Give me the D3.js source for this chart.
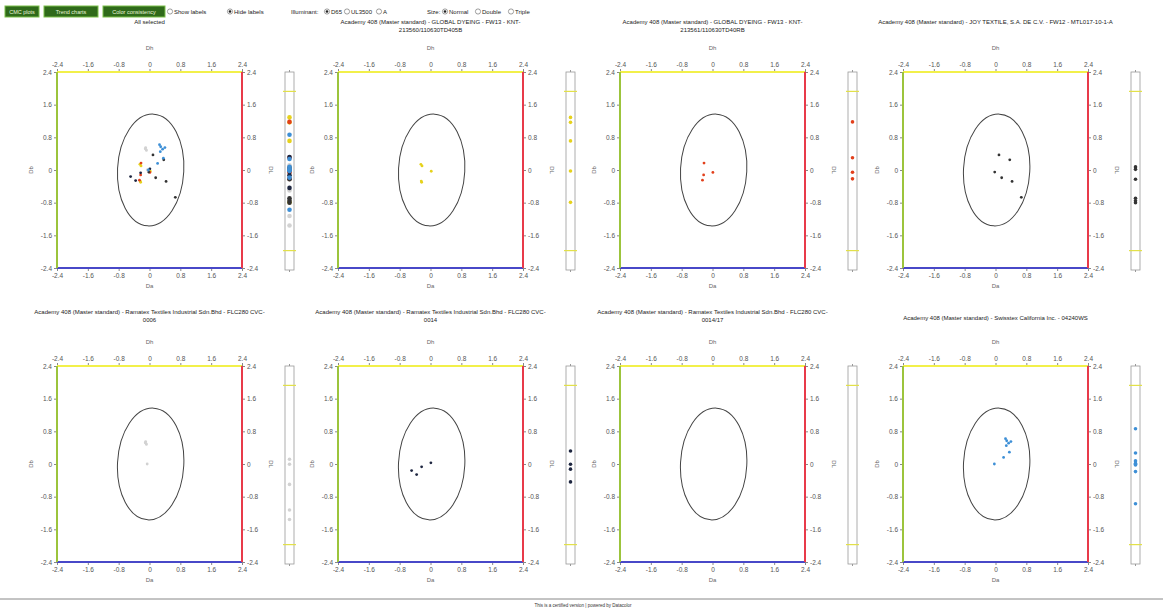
<!DOCTYPE html>
<html>
<head>
<meta charset="utf-8">
<script src="https://cdn.jsdelivr.net/npm/d3@7"></script>
<style>
  body { margin: 0; background: #fff; font-family: "Liberation Sans", Arial, sans-serif; }
  svg text { font-family: "Liberation Sans", Arial, sans-serif; }
  .tick text { fill: #555; font-size: 6.5px; }
  .tick line { stroke: #888; }
</style>
</head>
<body>
<script>
// ---- data ----
var tickVals = [-2.4, -1.6, -0.8, 0, 0.8, 1.6, 2.4];
var dlLimit = 1.93;

var titles = [
  ["All selected"],
  ["Academy 408 (Master standard) - GLOBAL DYEING - FW13 - KNT-", "213560/110630TD405B"],
  ["Academy 408 (Master standard) - GLOBAL DYEING - FW13 - KNT-", "213561/110630TD40RB"],
  ["Academy 408 (Master standard) - JOY TEXTILE, S.A. DE C.V. - FW12 - MTL017-10-1-A"],
  ["Academy 408 (Master standard) - Ramatex Textiles Industrial Sdn.Bhd - FLC280 CVC-", "0006"],
  ["Academy 408 (Master standard) - Ramatex Textiles Industrial Sdn.Bhd - FLC280 CVC-", "0014"],
  ["Academy 408 (Master standard) - Ramatex Textiles Industrial Sdn.Bhd - FLC280 CVC-", "0014/17"],
  ["Academy 408 (Master standard) - Swisstex California Inc. - 04240WS"]
];

// GLOBAL DYEING 405B
var p2Da = [-0.25, -0.22, 0.02, -0.23, -0.24];
var p2Db = [0.14, 0.10, -0.03, -0.30, -0.27];
var p2Dl = [1.30, 1.18, 0.73, 0.00, -0.76];
// GLOBAL DYEING 40RB
var p3Da = [-0.22, -0.23, -0.26, 0.01];
var p3Db = [0.17, -0.12, -0.25, -0.06];
var p3Dl = [1.19, 0.32, -0.03, -0.19];
// JOY TEXTILE
var p4Da = [0.09, 0.37, -0.02, 0.16, 0.43, 0.67];
var p4Db = [0.37, 0.25, -0.05, -0.19, -0.28, -0.67];
var p4Dl = [0.10, 0.04, -0.20, -0.66, -0.72, -0.77];
// Ramatex 0006
var p5Da = [-0.11, -0.06, -0.09, -0.10, -0.08];
var p5Db = [0.52, 0.00, 0.50, 0.55, 0.48];
var p5Dl = [0.14, 0.02, -0.47, -1.09, -1.32];
// Ramatex 0014
var p6Da = [-0.49, -0.36, -0.23, 0.01];
var p6Db = [-0.16, -0.26, -0.07, 0.03];
var p6Dl = [0.34, 0.02, -0.10, -0.41];
// Ramatex 0014/17
var p7Da = [];
var p7Db = [];
var p7Dl = [];
// Swisstex
var p8Da = [0.26, 0.29, 0.34, 0.40, 0.28, 0.36, 0.21, -0.03];
var p8Db = [0.62, 0.57, 0.51, 0.55, 0.45, 0.29, 0.16, 0.00];
var p8Dl = [0.88, 0.29, 0.10, 0.04, 0.00, -0.16, -0.94, 0.02];

var supplierColors = ["#e6d21c", "#e2401c", "#333333", "#d2d2d2", "#1e2640", "#888888", "#3d8fd6"];

// build per-panel tables
function rows(da, db, dl, c) {
  return da.map(function(d, i) { return {da: d, db: db[i], dl: dl[i], color: c}; });
}
var supplierData = [
  rows(p2Da, p2Db, p2Dl, supplierColors[0]),
  rows(p3Da, p3Db, p3Dl, supplierColors[1]),
  rows(p4Da, p4Db, p4Dl, supplierColors[2]),
  rows(p5Da, p5Db, p5Dl, supplierColors[3]),
  rows(p6Da, p6Db, p6Dl, supplierColors[4]),
  rows(p7Da, p7Db, p7Dl, supplierColors[5]),
  rows(p8Da, p8Db, p8Dl, supplierColors[6])
];
var allData = [].concat.apply([], supplierData);
var panelData = [allData].concat(supplierData);

// ---- layout ----
var W = 185, H = 196;
var colX = [57, 338, 620, 903];
var rowY = [72, 366];
var titleY = [[24, 24, 24, 24], [314, 314, 314, 320]];

var svg = d3.select("body").append("svg")
  .attr("width", 1163).attr("height", 611);

// ---- top controls ----
var ctl = svg.append("g").attr("font-size", "6px").attr("fill", "#222");
var buttons = [{t: "CMC plots", x: 5, w: 34}, {t: "Trend charts", x: 44, w: 54}, {t: "Color consistency", x: 103, w: 62}];
buttons.forEach(function(b) {
  ctl.append("rect").attr("x", b.x).attr("y", 6).attr("width", b.w).attr("height", 11)
    .attr("fill", "#2f6a1a").attr("stroke", "#7cc04a").attr("stroke-width", 1);
  ctl.append("text").attr("x", b.x + b.w / 2).attr("y", 14).attr("text-anchor", "middle")
    .attr("fill", "#e8f5d8").attr("font-size", "5.5px").text(b.t);
});
function radio(x, label, on) {
  ctl.append("circle").attr("cx", x + 3).attr("cy", 11.5).attr("r", 2.6)
    .attr("fill", "#fff").attr("stroke", "#777").attr("stroke-width", 0.7);
  if (on) ctl.append("circle").attr("cx", x + 3).attr("cy", 11.5).attr("r", 1.3).attr("fill", "#222");
  ctl.append("text").attr("x", x + 7).attr("y", 13.8).text(label);
}
radio(167, "Show labels", false);
radio(227, "Hide labels", true);
ctl.append("text").attr("x", 291).attr("y", 13.8).text("Illuminant:");
radio(324, "D65", true);
radio(344, "UL3500", false);
radio(376, "A", false);
ctl.append("text").attr("x", 427).attr("y", 13.8).text("Size:");
radio(442, "Normal", true);
radio(475, "Double", false);
radio(508, "Triple", false);

// ---- panels ----
var fmt = function(d) { return d === 0 ? "0" : String(d); };

panelData.forEach(function(data, i) {
  var r = Math.floor(i / 4), c = i % 4;
  var x = d3.scaleLinear().domain([-2.4, 2.4]).range([0, W]);
  var y = d3.scaleLinear().domain([-2.4, 2.4]).range([H, 0]);
  var g = svg.append("g").attr("transform", "translate(" + colX[c] + "," + rowY[r] + ")");

  // title
  var t = svg.append("text").attr("x", colX[c] + W / 2).attr("y", titleY[r][c])
    .attr("text-anchor", "middle").attr("font-size", "6px").attr("fill", "#222");
  titles[i].forEach(function(line, k) {
    t.append("tspan").attr("x", colX[c] + W / 2).attr("dy", k ? 7.5 : 0).text(line);
  });

  // axes
  [["top", d3.axisTop(x), "translate(0,0)"],
   ["bottom", d3.axisBottom(x), "translate(0," + H + ")"],
   ["left", d3.axisLeft(y), "translate(0,0)"],
   ["right", d3.axisRight(y), "translate(" + W + ",0)"]].forEach(function(a) {
    var ax = g.append("g").attr("class", "axis").attr("transform", a[2])
      .call(a[1].tickValues(tickVals).tickSize(3).tickPadding(2).tickFormat(fmt));
    ax.select(".domain").remove();
  });

  // coloured frame
  g.append("line").attr("x1", 0).attr("x2", W).attr("y1", 0).attr("y2", 0).attr("stroke", "#f2f04a").attr("stroke-width", 2);
  g.append("line").attr("x1", 0).attr("x2", W).attr("y1", H).attr("y2", H).attr("stroke", "#4848c8").attr("stroke-width", 2);
  g.append("line").attr("x1", 0).attr("x2", 0).attr("y1", 0).attr("y2", H).attr("stroke", "#9cc43c").attr("stroke-width", 2);
  g.append("line").attr("x1", W).attr("x2", W).attr("y1", 0).attr("y2", H).attr("stroke", "#e83a4a").attr("stroke-width", 2);

  // axis names
  g.append("text").attr("x", W / 2).attr("y", -22).attr("text-anchor", "middle").attr("font-size", "6px").attr("fill", "#666").text("Dh");
  g.append("text").attr("x", W / 2).attr("y", H + 20).attr("text-anchor", "middle").attr("font-size", "6px").attr("fill", "#666").text("Da");
  g.append("text").attr("transform", "translate(-24," + (H / 2) + ") rotate(-90)").attr("text-anchor", "middle").attr("font-size", "6px").attr("fill", "#666").text("Db");
  g.append("text").attr("transform", "translate(" + (W + 27) + "," + (H / 2) + ") rotate(90)").attr("text-anchor", "middle").attr("font-size", "6px").attr("fill", "#666").text("DL");

  // tolerance ellipse
  g.append("ellipse")
    .attr("cx", x(0.03)).attr("cy", y(0))
    .attr("rx", x(0.86) - x(0)).attr("ry", y(0) - y(1.37))
    .attr("transform", "rotate(3," + x(0.03) + "," + y(0) + ")")
    .attr("fill", "none").attr("stroke", "#444").attr("stroke-width", 1);

  // points
  g.selectAll(".dot").data(data).enter().append("circle")
    .attr("class", "dot")
    .attr("cx", function(d) { return x(d.da); })
    .attr("cy", function(d) { return y(d.db); })
    .attr("r", 1.4)
    .attr("fill", function(d) { return d.color; });

  // lightness bar
  var bx = W + 43, bw = 9;
  var yl = d3.scaleLinear().domain([-2.4, 2.4]).range([H + 2, 0]);
  var bar = g.append("g").attr("transform", "translate(" + bx + ",0)");
  bar.append("rect").attr("x", 0).attr("y", 0).attr("width", bw).attr("height", H + 2)
    .attr("fill", "#fff").attr("stroke", "#999").attr("stroke-width", 0.8);
  bar.append("line").attr("x1", bw / 2).attr("x2", bw / 2).attr("y1", -2).attr("y2", 0).attr("stroke", "#999");
  bar.append("line").attr("x1", bw / 2).attr("x2", bw / 2).attr("y1", H + 2).attr("y2", H + 4).attr("stroke", "#999");
  [dlLimit, -dlLimit].forEach(function(v) {
    bar.append("line").attr("x1", -2).attr("x2", bw + 2).attr("y1", yl(v)).attr("y2", yl(v))
      .attr("stroke", "#e2e04a").attr("stroke-width", 1.2);
  });
  bar.selectAll(".ldot").data(data).enter().append("circle")
    .attr("class", "ldot")
    .attr("cx", bw / 2)
    .attr("cy", function(d) { return yl(d.dl); })
    .attr("r", i === 0 ? 2.3 : 1.8)
    .attr("fill", function(d) { return d.color; });
});

// ---- footer ----
svg.append("line").attr("x1", 0).attr("x2", 1163).attr("y1", 599).attr("y2", 599)
  .attr("stroke", "#888").attr("stroke-width", 1);
svg.append("text").attr("x", 583).attr("y", 607).attr("text-anchor", "middle")
  .attr("font-size", "4.5px").attr("fill", "#333")
  .text("This is a certified version | powered by Datacolor");
</script>
</body>
</html>
